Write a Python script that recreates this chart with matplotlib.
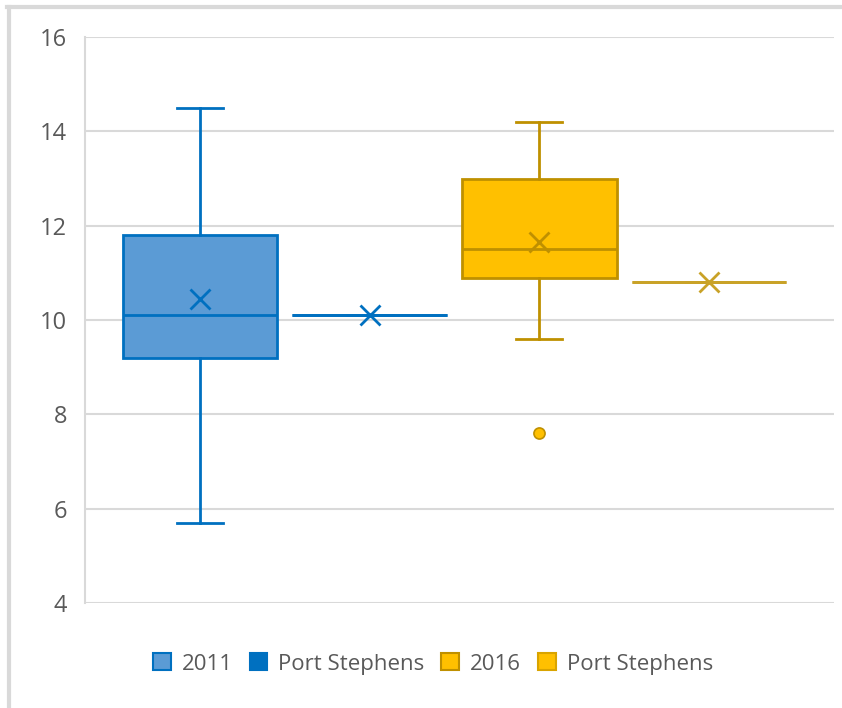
import matplotlib
matplotlib.use("Agg")
import matplotlib.pyplot as plt
from matplotlib.patches import Patch
from matplotlib.lines import Line2D

plt.rcParams['font.family'] = ['Open Sans', 'DejaVu Sans']

# Series names as they appear in the legend
series = ["2011", "Port Stephens", "2016", "Port Stephens"]

# Five-number summaries, means and outliers for each series
whislo = [5.7, 10.1, 9.6, 10.8]
q1 = [9.2, 10.1, 10.9, 10.8]
med = [10.1, 10.1, 11.5, 10.8]
q3 = [11.8, 10.1, 13.0, 10.8]
whishi = [14.5, 10.1, 14.2, 10.8]
means = [10.45, 10.1, 11.65, 10.8]
fliers = [[], [], [7.6], []]

yticks = [4, 6, 8, 10, 12, 14, 16]

face_colors = ["#5B9BD5", "#0070C0", "#FFC000", "#FFC000"]
edge_colors = ["#0070C0", "#0070C0", "#BF9000", "#C9A227"]
legend_edges = ["#0070C0", "#0070C0", "#BF9000", "#D9A400"]

W, H = 842, 708
fig = plt.figure(figsize=(W / 100, H / 100), dpi=100)
ax = fig.add_axes([85 / W, (H - 603) / H, 749 / W, 566 / H])

for i in range(len(series)):
    stats = [dict(whislo=whislo[i], q1=q1[i], med=med[i], q3=q3[i],
                  whishi=whishi[i], mean=means[i], fliers=fliers[i])]
    ec = edge_colors[i]
    ax.bxp(stats, positions=[i + 1], widths=0.91, patch_artist=True,
           showmeans=True, showfliers=True, capwidths=0.27,
           boxprops=dict(facecolor=face_colors[i], edgecolor=ec, linewidth=2),
           medianprops=dict(color=ec, linewidth=2),
           whiskerprops=dict(color=ec, linewidth=2),
           capprops=dict(color=ec, linewidth=2),
           meanprops=dict(marker='x', markersize=14, markeredgewidth=2,
                          markeredgecolor=ec, markerfacecolor=ec),
           flierprops=dict(marker='o', markersize=8, markerfacecolor=face_colors[i],
                           markeredgecolor=ec, markeredgewidth=1.2))

ax.set_xlim(0.322, 4.737)
ax.set_ylim(4, 16)
ax.set_yticks(yticks)
ax.set_yticklabels([str(t) for t in yticks])
ax.set_xticks([])
ax.tick_params(axis='y', length=0, pad=13, labelsize=17, labelcolor="#595959")
ax.grid(axis='y', color="#D9D9D9", linewidth=1.5, zorder=0)
ax.set_axisbelow(True)
for side in ["top", "right", "bottom"]:
    ax.spines[side].set_visible(False)
ax.spines["left"].set_color("#D9D9D9")
ax.spines["left"].set_linewidth(1.5)

handles = [Patch(facecolor=face_colors[i], edgecolor=legend_edges[i], linewidth=1.5)
           for i in range(len(series))]
fig.legend(handles, series, loc='center', bbox_to_anchor=(433 / W, (H - 664) / H),
           ncol=4, frameon=False, fontsize=16, labelcolor="#595959",
           handlelength=0.8, handleheight=0.8, handletextpad=0.5,
           columnspacing=0.75, borderaxespad=0)

# Chart-area frame (left and top edges)
fig.add_artist(Line2D([8.5 / W, 8.5 / W], [0, 1 - 6.5 / H], transform=fig.transFigure,
                      color="#D9D9D9", linewidth=3))
fig.add_artist(Line2D([7 / W, 1], [1 - 6.5 / H, 1 - 6.5 / H], transform=fig.transFigure,
                      color="#D9D9D9", linewidth=3))

fig.savefig("out.png", dpi=100)
